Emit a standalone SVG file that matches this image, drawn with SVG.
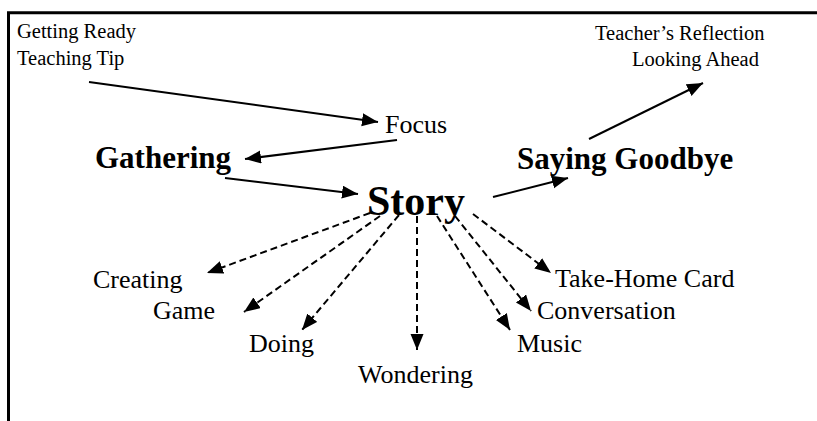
<svg xmlns="http://www.w3.org/2000/svg" width="817" height="421" viewBox="0 0 817 421">
<style>
  text { font-family: "Liberation Serif", "Times New Roman", serif; fill: #000; }
  .sm { font-size: 20.5px; }
  .md { font-size: 26px; }
  .bd { font-size: 31px; font-weight: bold; }
  .st { font-size: 42px; font-weight: bold; }
  .solid { stroke: #000; stroke-width: 2; fill: none; marker-end: url(#ah); }
  .dash { stroke: #000; stroke-width: 2; fill: none; stroke-dasharray: 7 4; marker-end: url(#ah); }
  .frame { stroke: #000; stroke-width: 3; fill: none; }
</style>
<defs>
  <marker id="ah" markerUnits="userSpaceOnUse" markerWidth="17" markerHeight="14" refX="16" refY="6.5" orient="auto">
    <path d="M0,0 L16,6.5 L0,13 z" fill="#000" stroke="none"/>
  </marker>
</defs>
<rect width="817" height="421" fill="#fff"/>
<g id="frame">
  <path class="frame" d="M8.5,421 V12.8 H817"/>
</g>
<g id="n-getting-ready"><text class="sm" x="17" y="38">Getting Ready</text><text class="sm" x="17" y="65">Teaching Tip</text></g>
<g id="n-reflection"><text class="sm" x="595" y="40">Teacher’s Reflection</text><text class="sm" x="632" y="66">Looking Ahead</text></g>
<g id="n-focus"><text class="md" x="385" y="133">Focus</text></g>
<g id="n-gathering"><text class="bd" x="95" y="168">Gathering</text></g>
<g id="n-story"><text class="st" x="367" y="215">Story</text></g>
<g id="n-goodbye"><text class="bd" x="517" y="169">Saying Goodbye</text></g>
<g id="n-creating"><text class="md" x="93" y="288">Creating</text></g>
<g id="n-game"><text class="md" x="153" y="319">Game</text></g>
<g id="n-doing"><text class="md" x="249" y="352">Doing</text></g>
<g id="n-wondering"><text class="md" x="358" y="383">Wondering</text></g>
<g id="n-music"><text class="md" x="517" y="352">Music</text></g>
<g id="n-conversation"><text class="md" x="537" y="319">Conversation</text></g>
<g id="n-takehome"><text class="md" x="555" y="287">Take-Home Card</text></g>
<g id="connectors">
  <line class="solid" x1="89" y1="82" x2="378" y2="122"/>
  <line class="solid" x1="397" y1="140" x2="245" y2="159"/>
  <line class="solid" x1="225" y1="178" x2="358" y2="194"/>
  <line class="solid" x1="493" y1="197" x2="568" y2="178"/>
  <line class="solid" x1="589" y1="139" x2="703" y2="83"/>
  <line class="dash" x1="370" y1="213" x2="207" y2="273"/>
  <line class="dash" x1="380" y1="216" x2="244" y2="312"/>
  <line class="dash" x1="399" y1="215" x2="302" y2="330"/>
  <line class="dash" x1="417" y1="216" x2="417" y2="350"/>
  <line class="dash" x1="437" y1="216" x2="510" y2="330"/>
  <line class="dash" x1="455" y1="216" x2="531" y2="311"/>
  <line class="dash" x1="473" y1="214" x2="551" y2="273"/>
</g>
</svg>
